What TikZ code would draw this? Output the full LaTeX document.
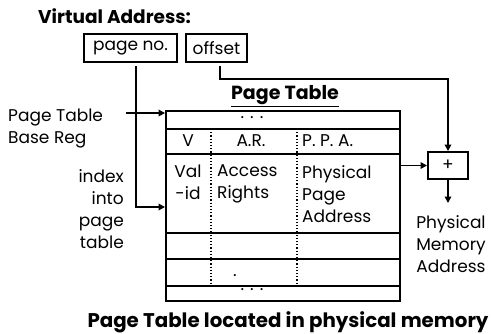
\documentclass[tikz,border=0pt]{standalone}
\usepackage{fontspec}
\setmainfont{Poppins}
\usetikzlibrary{arrows.meta,calc}
\begin{document}
\begin{tikzpicture}[x=1pt,y=-1pt,
  frame/.style={draw,line width=1.9pt,inner sep=0pt},
  rule/.style={line width=1.5pt},
  dots/.style={line width=1.2pt,dotted},
  arr/.style={line width=1.9pt,-{Triangle[length=6.5pt,width=6.5pt]}},
  txt/.style={font=\fontsize{17}{22}\selectfont,inner sep=0pt},
  bold/.style={font=\fontsize{19}{22}\selectfont\bfseries,inner sep=0pt}]
\useasboundingbox (0,0) rectangle (493,333);
% virtual address
\node[bold,anchor=west,font=\fontsize{18.5}{22}\selectfont\bfseries] (va) at (38,16) {Virtual Address:};
\node[frame,txt,minimum width=93,minimum height=28] (pn) at (130.5,48) {page no.};
\node[frame,txt,minimum width=61,minimum height=28] (off) at (216.5,48) {offset};
% page table
\node[bold] (ptt) at (285,96) {\underline{Page Table}};
\node[frame,minimum width=234,minimum height=190] (pt) at (283,206) {};
\foreach \yy in {129,154,233,259,286}
  \draw[rule] (pt.west |- 0,\yy) -- (pt.east |- 0,\yy);
\draw[dots] (211,129) -- (211,286);
\draw[dots] (297,129) -- (297,286);
\node[txt] (d1) at (252,118) {. . .};
\node[txt] (hv) at (188,141) {V};
\node[txt] (har) at (251,141) {A.R.};
\node[txt,anchor=west] (hppa) at (302,141) {P. P. A.};
\node[txt,align=center,anchor=north] (val) at (188,165) {Val\\-id};
\node[txt,align=left,anchor=north west] (acc) at (217,165) {Access\\Rights};
\node[txt,align=left,anchor=north west] (ppa) at (302,165) {Physical\\Page\\Address};
\node[txt] (d2) at (235,276) {.};
\node[txt] (d3) at (252,290) {. . .};
% left labels
\node[txt,align=left,anchor=west] (ptbr) at (8,128) {Page Table\\Base Reg};
\node[txt,align=right,anchor=east] (idx) at (124,209) {index\\into\\page\\table};
\coordinate (ptbrS) at (126,113);
\draw[arr] (ptbrS) -- (pt.west |- ptbrS);
\coordinate (pnS) at (136,66);
\draw[arr] (pnS) |- (pt.west |- 0,207);
% adder
\node[frame,txt,minimum width=40,minimum height=27] (plus) at (448,165.5) {+};
\coordinate (offS) at (220,66);
\coordinate (offT) at (448,79);
\draw[arr] (offS) |- (offT) -- (plus.north);
\draw[arr] (pt.east |- plus) -- (plus.west);
\coordinate (outE) at (448,203);
\draw[arr] (plus.south) -- (outE);
\node[txt,align=center] (pma) at (451,244) {Physical\\Memory\\Address};
% bottom caption
\node[bold,font=\fontsize{19.8}{22}\selectfont\bfseries] (cap) at (288,322) {Page Table located in physical memory};
\end{tikzpicture}
\end{document}
